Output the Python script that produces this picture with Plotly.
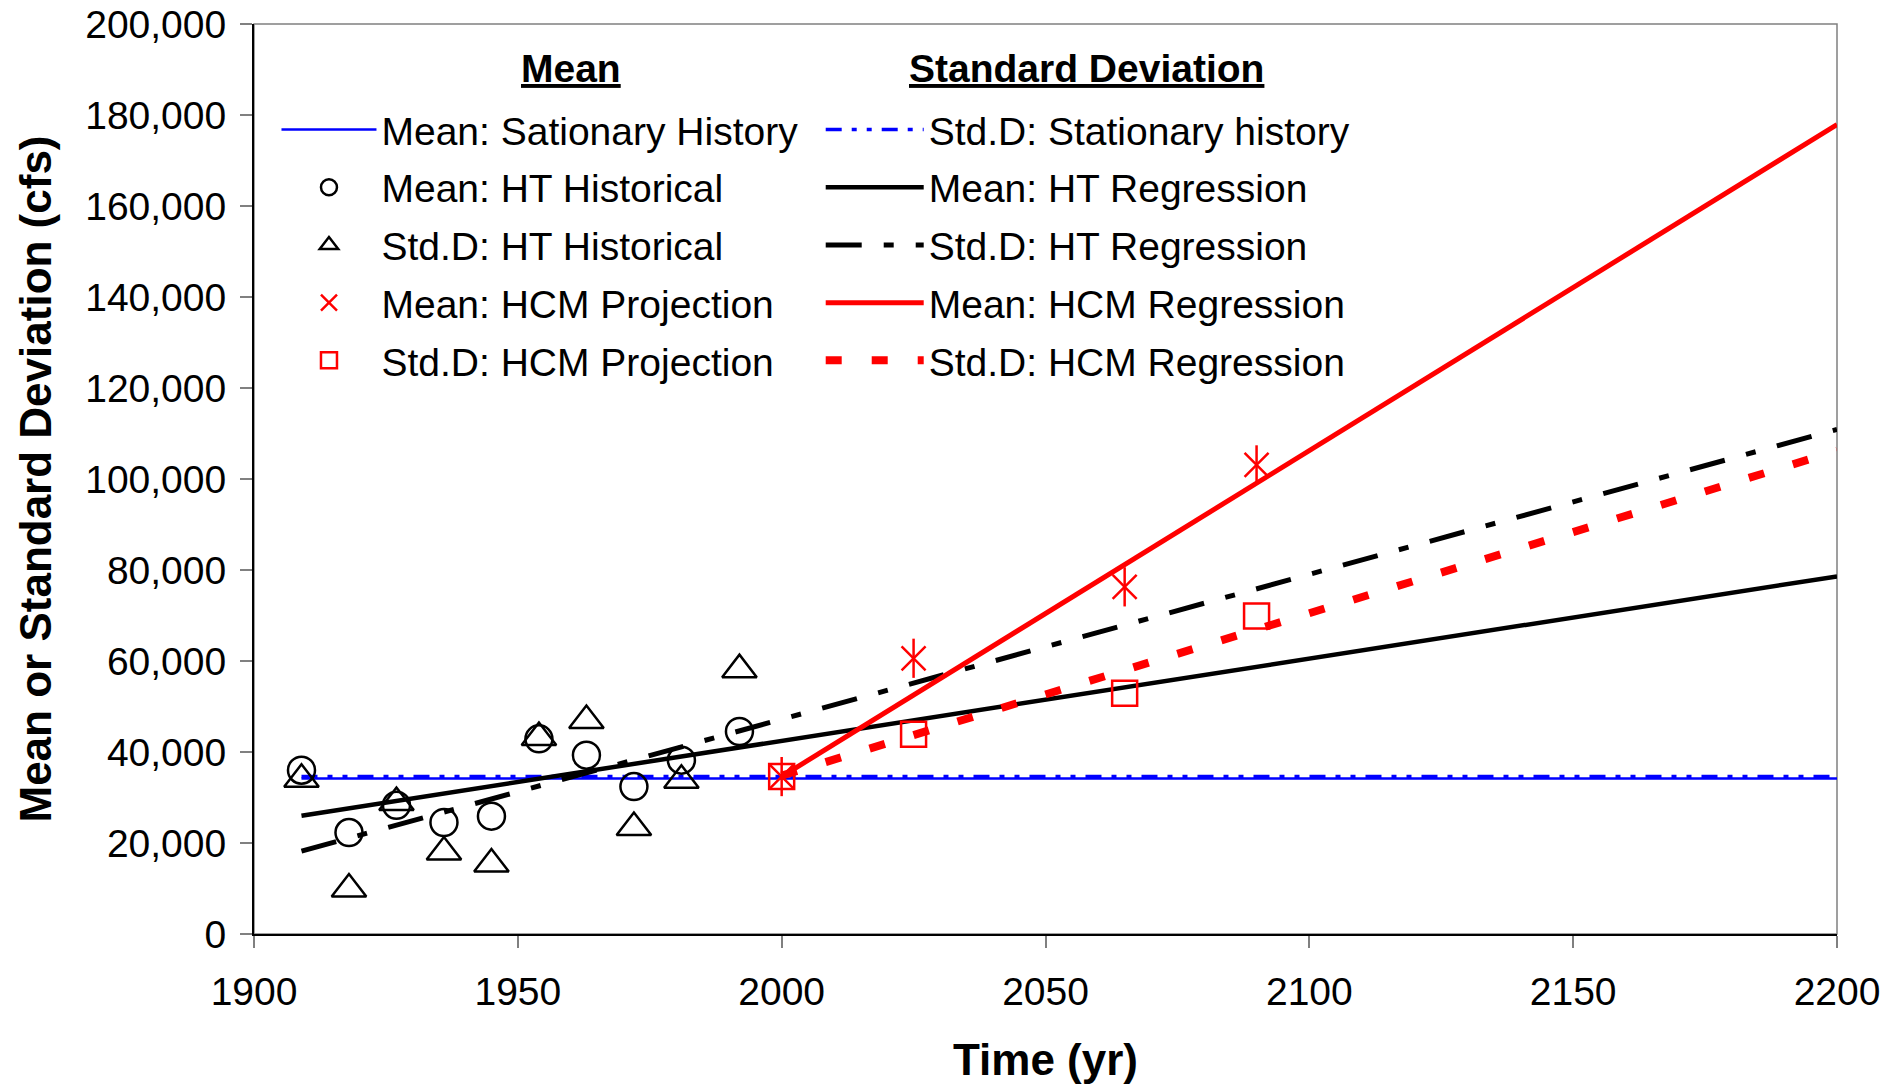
import plotly.graph_objects as go

# ---------------- data ----------------
hist_years = [1909, 1918, 1927, 1936, 1945, 1954, 1963, 1972, 1981, 1992]
mean_ht_hist = [36000, 22300, 28300, 24500, 25900, 42900, 39300, 32400, 38200, 44500]
std_ht_hist = [34000, 9900, 28900, 18000, 15400, 43200, 46900, 23400, 33800, 58100]

proj_years = [2000, 2025, 2065, 2090]
mean_hcm_proj = [34600, 60600, 76300, 103100]
std_hcm_proj = [34600, 43900, 52900, 69900]

stat_years = [1909, 2200]
mean_stationary = [34200, 34200]
std_stationary = [34600, 34600]

ht_reg_years = [1909, 2200]
mean_ht_reg = [26000, 78600]
std_ht_reg = [18200, 110900]

hcm_reg_years = [2000, 2200]
mean_hcm_reg = [34600, 177900]
std_hcm_reg = [34800, 106200]

x_ticks = [1900, 1950, 2000, 2050, 2100, 2150, 2200]
y_ticks = list(range(0, 200001, 20000))

FONT = "Liberation Sans, Arial, sans-serif"
BLUE = "#0000FF"
RED = "#FF0000"

fig = go.Figure()


def add(trace, legend):
    trace.legend = legend
    trace.legendgroup = trace.name
    fig.add_trace(trace)


# column 1 of the legend (legend), column 2 (legend2)
add(go.Scatter(x=stat_years, y=mean_stationary, mode="lines",
               name="Mean: Sationary History",
               line=dict(color=BLUE, width=2.5)), "legend")
add(go.Scatter(x=stat_years, y=std_stationary, mode="lines",
               name="Std.D: Stationary history",
               line=dict(color=BLUE, width=3.5,
                         dash="16px,10px,5px,10px,5px,10px")), "legend2")
add(go.Scatter(x=ht_reg_years, y=mean_ht_reg, mode="lines",
               name="Mean: HT Regression",
               line=dict(color="black", width=4.5)), "legend2")
add(go.Scatter(x=ht_reg_years, y=std_ht_reg, mode="lines",
               name="Std.D: HT Regression",
               line=dict(color="black", width=5,
                         dash="36px,22px,10px,22px")), "legend2")
add(go.Scatter(x=hcm_reg_years, y=mean_hcm_reg, mode="lines",
               name="Mean: HCM Regression",
               line=dict(color=RED, width=5)), "legend2")
add(go.Scatter(x=hcm_reg_years, y=std_hcm_reg, mode="lines",
               name="Std.D: HCM Regression",
               line=dict(color=RED, width=8, dash="16px,30px")), "legend2")
add(go.Scatter(x=hist_years, y=mean_ht_hist, mode="markers",
               name="Mean: HT Historical",
               marker=dict(symbol="circle-open", size=27, color="black",
                           line=dict(width=2.5, color="black"))), "legend")
add(go.Scatter(x=hist_years, y=std_ht_hist, mode="markers",
               name="Std.D: HT Historical",
               marker=dict(symbol="triangle-up-open", size=30, color="black",
                           line=dict(width=2.5, color="black"))), "legend")
add(go.Scatter(x=proj_years, y=mean_hcm_proj, mode="markers",
               name="Mean: HCM Projection",
               marker=dict(symbol="x-thin-open", size=24, color=RED,
                           line=dict(width=2.5, color=RED))), "legend")
add(go.Scatter(x=proj_years, y=std_hcm_proj, mode="markers",
               name="Std.D: HCM Projection",
               marker=dict(symbol="square-open", size=25, color=RED,
                           line=dict(width=2.5, color=RED))), "legend")
# vertical stroke of the asterisk markers
fig.add_trace(go.Scatter(x=proj_years, y=mean_hcm_proj, mode="markers",
                         showlegend=False, hoverinfo="skip",
                         marker=dict(symbol="line-ns-open", size=28, color=RED,
                                     line=dict(width=2.5, color=RED))))

axis_common = dict(showgrid=False, zeroline=False, showline=True, linecolor="black",
                   linewidth=2, ticks="outside", ticklen=12, tickcolor="#808080",
                   tickwidth=1.5, ticklabeloverflow="allow",
                   tickfont=dict(family=FONT, size=39, color="black"))

fig.update_xaxes(range=[1900, 2200], tickvals=x_ticks, ticktext=[str(v) for v in x_ticks],
                 ticklabelstandoff=10,
                 title=dict(text="<b>Time (yr)</b>", standoff=32,
                            font=dict(family=FONT, size=44, color="black")),
                 **axis_common)
fig.update_yaxes(range=[0, 200000], tickvals=y_ticks,
                 ticktext=[f"{v:,}" for v in y_ticks],
                 ticklabelstandoff=6,
                 title=dict(text="<b>Mean or Standard Deviation (cfs)</b>", standoff=20,
                            font=dict(family=FONT, size=44, color="black")),
                 **axis_common)

fig.add_shape(type="rect", xref="paper", yref="paper", x0=0, x1=1, y0=0, y1=1,
              line=dict(color="#808080", width=1.5), layer="below")

fig.add_annotation(xref="paper", yref="paper", x=0.2003, y=0.951, showarrow=False,
                   xanchor="center", yanchor="middle",
                   text="<b><u>Mean</u></b>",
                   font=dict(family=FONT, size=39, color="black"))
fig.add_annotation(xref="paper", yref="paper", x=0.526, y=0.951, showarrow=False,
                   xanchor="center", yanchor="middle",
                   text="<b><u>Standard Deviation</u></b>",
                   font=dict(family=FONT, size=39, color="black"))

legend_common = dict(orientation="v", yanchor="top", xanchor="left",
                     bgcolor="rgba(0,0,0,0)", borderwidth=0,
                     font=dict(family=FONT, size=39, color="black"),
                     tracegroupgap=4, traceorder="grouped")

fig.update_layout(
    width=1885, height=1085,
    margin=dict(l=254, r=48, t=24, b=151, autoexpand=False),
    paper_bgcolor="white", plot_bgcolor="white",
    font=dict(family=FONT, color="black"),
    legend=dict(x=0.0142, y=0.919, itemwidth=95, **legend_common),
    legend2=dict(x=0.358, y=0.919, itemwidth=98, **legend_common),
    showlegend=True,
)

fig.write_html("out.html", config={"displayModeBar": False},
               post_script="document.body.style.margin='0px';document.body.style.padding='0px';")
